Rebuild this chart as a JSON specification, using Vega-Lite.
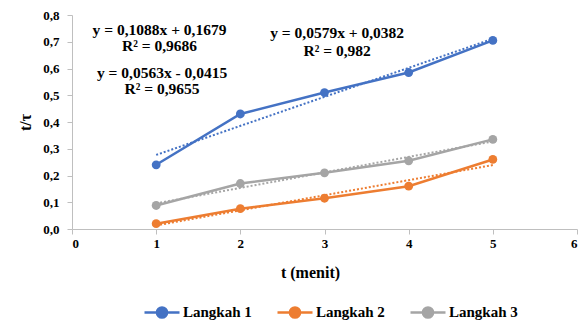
{
  "$schema": "https://vega.github.io/schema/vega-lite/v6.json",
  "width": 505,
  "height": 214,
  "autosize": {"type": "none"},
  "padding": {"left": 72, "top": 15, "right": 8, "bottom": 91},
  "config": {
    "view": {"stroke": null},
    "font": "Liberation Serif",
    "axis": {
      "grid": false,
      "domainColor": "#BFBFBF",
      "tickColor": "#BFBFBF",
      "tickSize": 5,
      "labelOverlap": false,
      "labelFont": "Liberation Serif",
      "labelFontSize": 13,
      "labelFontWeight": "bold",
      "labelColor": "#000000",
      "titleFont": "Liberation Serif",
      "titleFontSize": 16,
      "titleFontWeight": "bold",
      "titleColor": "#000000"
    }
  },
  "datasets": {
    "pts": [
      {"t": 1, "v": 0.24, "series": "Langkah 1"},
      {"t": 2, "v": 0.43, "series": "Langkah 1"},
      {"t": 3, "v": 0.51, "series": "Langkah 1"},
      {"t": 4, "v": 0.585, "series": "Langkah 1"},
      {"t": 5, "v": 0.705, "series": "Langkah 1"},
      {"t": 1, "v": 0.02, "series": "Langkah 2"},
      {"t": 2, "v": 0.076, "series": "Langkah 2"},
      {"t": 3, "v": 0.115, "series": "Langkah 2"},
      {"t": 4, "v": 0.16, "series": "Langkah 2"},
      {"t": 5, "v": 0.26, "series": "Langkah 2"},
      {"t": 1, "v": 0.088, "series": "Langkah 3"},
      {"t": 2, "v": 0.17, "series": "Langkah 3"},
      {"t": 3, "v": 0.21, "series": "Langkah 3"},
      {"t": 4, "v": 0.255, "series": "Langkah 3"},
      {"t": 5, "v": 0.335, "series": "Langkah 3"}
    ],
    "eq": [
      {"t": 1.04, "v": 0.745, "label": "y = 0,1088x + 0,1679"},
      {"t": 1.04, "v": 0.683, "label": "R² = 0,9686"},
      {"t": 1.07, "v": 0.583, "label": "y = 0,0563x - 0,0415"},
      {"t": 1.07, "v": 0.524, "label": "R² = 0,9655"},
      {"t": 3.15, "v": 0.733, "label": "y = 0,0579x + 0,0382"},
      {"t": 3.15, "v": 0.664, "label": "R² = 0,982"}
    ]
  },
  "encoding": {
    "x": {
      "field": "t", "type": "quantitative",
      "scale": {"domain": [0, 6], "nice": false},
      "axis": {"values": [0, 1, 2, 3, 4, 5, 6], "format": "d", "title": "t (menit)", "labelPadding": 3, "titlePadding": 14, "titleX": 238}
    },
    "y": {
      "field": "v", "type": "quantitative",
      "scale": {"domain": [0, 0.8], "nice": false},
      "axis": {"values": [0, 0.1, 0.2, 0.3, 0.4, 0.5, 0.6, 0.7, 0.8], "format": ".1f", "labelExpr": "replace(datum.label, '.', ',')", "title": "t/τ", "labelPadding": 8, "titlePadding": 9}
    }
  },
  "layer": [
    {
      "data": {"name": "pts"},
      "mark": {"type": "line", "strokeWidth": 2.5},
      "encoding": {
        "color": {
          "field": "series", "type": "nominal",
          "scale": {"domain": ["Langkah 1", "Langkah 2", "Langkah 3"], "range": ["#4472C4", "#ED7D31", "#A5A5A5"]},
          "legend": {
            "title": null,
            "orient": "none",
            "direction": "horizontal",
            "legendX": 71,
            "legendY": 278,
            "symbolType": "M-1,0H1M-0.29,0A0.29,0.29,0,1,1,0.29,0A0.29,0.29,0,1,1,-0.29,0Z",
            "symbolSize": 1225,
            "symbolStrokeWidth": 2.5,
            "labelFont": "Liberation Serif",
            "labelFontSize": 15,
            "labelFontWeight": "bold",
            "labelColor": "#000000",
            "labelOffset": 2,
            "columnPadding": 20,
            "encode": {"symbols": {"update": {"fill": {"scale": "color", "field": "value"}, "stroke": {"scale": "color", "field": "value"}, "opacity": {"value": 1}}}}
          }
        }
      }
    },
    {
      "data": {"name": "pts"},
      "transform": [{"regression": "v", "on": "t", "groupby": ["series"], "extent": [1, 5]}],
      "mark": {"type": "line", "strokeWidth": 2, "strokeDash": [2, 2]},
      "encoding": {
        "color": {"field": "series", "type": "nominal"}
      }
    },
    {
      "data": {"name": "pts"},
      "mark": {"type": "circle", "size": 78, "opacity": 1},
      "encoding": {
        "color": {"field": "series", "type": "nominal"}
      }
    },
    {
      "data": {"name": "eq"},
      "mark": {"type": "text", "font": "Liberation Serif", "fontSize": 15.5, "fontWeight": "bold", "color": "#000000", "baseline": "middle", "align": "center"},
      "encoding": {
        "text": {"field": "label"}
      }
    }
  ]
}
